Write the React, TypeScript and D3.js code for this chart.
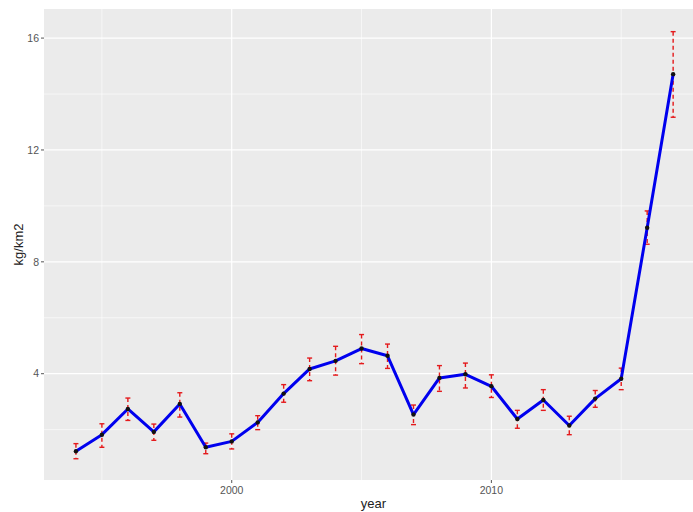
import React from "react";
import * as d3 from "d3";

const years = [1994, 1995, 1996, 1997, 1998, 1999, 2000, 2001, 2002, 2003, 2004, 2005, 2006, 2007, 2008, 2009, 2010, 2011, 2012, 2013, 2014, 2015, 2016, 2017];
const values = [1.23, 1.82, 2.74, 1.92, 2.92, 1.37, 1.58, 2.26, 3.29, 4.17, 4.46, 4.9, 4.64, 2.54, 3.85, 3.98, 3.55, 2.38, 3.06, 2.15, 3.11, 3.82, 9.22, 14.71];
const upper = [1.5, 2.21, 3.13, 2.2, 3.32, 1.52, 1.85, 2.5, 3.61, 4.56, 4.98, 5.4, 5.06, 2.88, 4.29, 4.38, 3.96, 2.69, 3.43, 2.48, 3.4, 4.2, 9.82, 16.23];
const lower = [0.96, 1.37, 2.33, 1.62, 2.45, 1.14, 1.31, 2.0, 2.98, 3.75, 3.95, 4.36, 4.19, 2.18, 3.37, 3.49, 3.15, 2.05, 2.69, 1.82, 2.8, 3.43, 8.63, 13.17];
const xTicks = [2000, 2010];
const xMinor = [1995, 2005, 2015];
const yTicks = [4, 8, 12, 16];
const yMinor = [2, 6, 10, 14];

export default function App() {
  const W = 693, H = 512;
  const left = 44, top = 9, bottom = 480, right = 703;
  const x = d3.scaleLinear().domain([1992.77, 2018.15]).range([left, right]);
  const y = d3.scaleLinear().domain([0.2, 17.04]).range([bottom, top]);
  const line = d3.line<number>().x((_, i) => x(years[i])).y((d) => y(d));
  const capW = 2.5;
  return (
    <svg width={W} height={H} style={{ position: "absolute", left: 0, top: 0, background: "#fff" }} fontFamily="Liberation Sans, Arial, sans-serif">
      <rect x={left} y={top} width={right - left} height={bottom - top} fill="#EBEBEB" />
      {yMinor.map((t) => (
        <line key={"ym" + t} x1={left} x2={right} y1={y(t)} y2={y(t)} stroke="#fff" strokeWidth={0.6} />
      ))}
      {xMinor.map((t) => (
        <line key={"xm" + t} x1={x(t)} x2={x(t)} y1={top} y2={bottom} stroke="#fff" strokeWidth={0.6} />
      ))}
      {yTicks.map((t) => (
        <line key={"yM" + t} x1={left} x2={right} y1={y(t)} y2={y(t)} stroke="#fff" strokeWidth={1.2} />
      ))}
      {xTicks.map((t) => (
        <line key={"xM" + t} x1={x(t)} x2={x(t)} y1={top} y2={bottom} stroke="#fff" strokeWidth={1.2} />
      ))}
      {years.map((yr, i) => (
        <g key={"e" + yr} stroke="#E41A1C" strokeWidth={1.4}>
          <line x1={x(yr)} x2={x(yr)} y1={y(upper[i])} y2={y(lower[i])} strokeDasharray="4,3" />
          <line x1={x(yr) - capW} x2={x(yr) + capW} y1={y(upper[i])} y2={y(upper[i])} />
          <line x1={x(yr) - capW} x2={x(yr) + capW} y1={y(lower[i])} y2={y(lower[i])} />
        </g>
      ))}
      <path d={line(values) || ""} fill="none" stroke="#0000EE" strokeWidth={3} strokeLinejoin="round" />
      {years.map((yr, i) => (
        <circle key={"p" + yr} cx={x(yr)} cy={y(values[i])} r={2.2} fill="#111" />
      ))}
      {yTicks.map((t) => (
        <g key={"yt" + t}>
          <line x1={left - 3} x2={left} y1={y(t)} y2={y(t)} stroke="#555" strokeWidth={1} />
          <text x={left - 5} y={y(t)} dy="0.35em" textAnchor="end" fontSize={10.5} fill="#555">{t}</text>
        </g>
      ))}
      {xTicks.map((t) => (
        <g key={"xt" + t}>
          <line x1={x(t)} x2={x(t)} y1={bottom} y2={bottom + 3} stroke="#555" strokeWidth={1} />
          <text x={x(t)} y={bottom + 14} textAnchor="middle" fontSize={10.5} fill="#555">{t}</text>
        </g>
      ))}
      <text x={(left + right) / 2} y={508} textAnchor="middle" fontSize={13} fill="#222">year</text>
      <text transform={`translate(23,${(top + bottom) / 2}) rotate(-90)`} textAnchor="middle" fontSize={13} fill="#222">kg/km2</text>
    </svg>
  );
}
